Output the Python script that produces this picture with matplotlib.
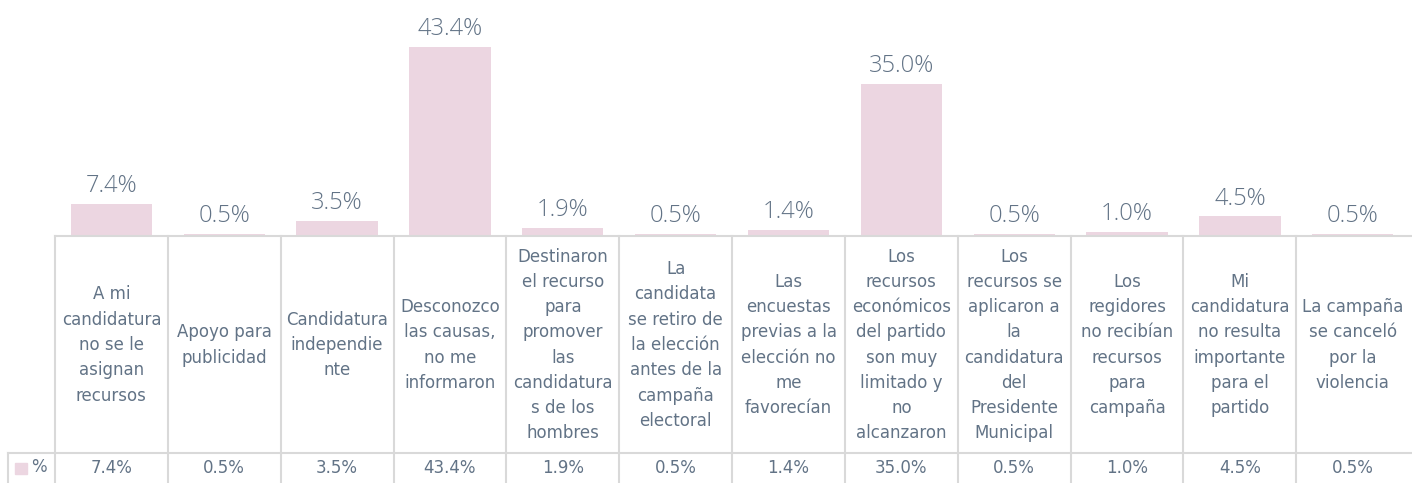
import matplotlib
matplotlib.use("Agg")
import matplotlib.pyplot as plt
from matplotlib.patches import Rectangle

plt.rcParams['font.family'] = ['DejaVu Sans']

categories = [
    "A mi\ncandidatura\nno se le\nasignan\nrecursos",
    "Apoyo para\npublicidad",
    "Candidatura\nindependie\nnte",
    "Desconozco\nlas causas,\nno me\ninformaron",
    "Destinaron\nel recurso\npara\npromover\nlas\ncandidatura\ns de los\nhombres",
    "La\ncandidata\nse retiro de\nla elección\nantes de la\ncampaña\nelectoral",
    "Las\nencuestas\nprevias a la\nelección no\nme\nfavorecían",
    "Los\nrecursos\neconómicos\ndel partido\nson muy\nlimitado y\nno\nalcanzaron",
    "Los\nrecursos se\naplicaron a\nla\ncandidatura\ndel\nPresidente\nMunicipal",
    "Los\nregidores\nno recibían\nrecursos\npara\ncampaña",
    "Mi\ncandidatura\nno resulta\nimportante\npara el\npartido",
    "La campaña\nse canceló\npor la\nviolencia",
]
values = [7.4, 0.5, 3.5, 43.4, 1.9, 0.5, 1.4, 35.0, 0.5, 1.0, 4.5, 0.5]
series_name = "%"

bar_color = "#ecd6e1"
text_color = "#627386"
grid_color = "#d9d9d9"

W, H = 1412, 483
fig = plt.figure(figsize=(W / 100, H / 100), dpi=100)

# bar area: baseline sits on top of the data table
base_px = 236
left_px = 55
col_px = 112.85
n = len(values)
ymax = 50
plot_h = ymax * 4.355
ax = fig.add_axes([left_px / W, (H - base_px) / H, n * col_px / W, plot_h / H])

x = list(range(n))
bars = ax.bar(x, values, width=0.72, color=bar_color)
ax.bar_label(bars, labels=[f"{v:.1f}%" for v in values], padding=4,
             fontsize=17, color=text_color, fontweight='light',
             family=['Open Sans', 'DejaVu Sans'])
ax.set_xlim(-0.5, n - 0.5)
ax.set_ylim(0, ymax)
ax.axis('off')

# data table below the bars (x in data units, y in axes units)
tr = ax.get_xaxis_transform()
px_y = lambda p: -(p - base_px) / plot_h
row1 = px_y(453)
bottom = px_y(H + 2)
leg_left = -0.5 - 47 / col_px
right = n - 0.5 + 10 / col_px

line_kw = dict(color=grid_color, lw=1.5, transform=tr, clip_on=False)
ax.plot([-0.5, right], [0, 0], **line_kw)
ax.plot([leg_left, right], [row1, row1], **line_kw)
ax.plot([leg_left, leg_left], [row1, bottom], **line_kw)
for i in range(n):
    ax.plot([i - 0.5, i - 0.5], [0, bottom], **line_kw)

cell_fs = 12
for i, (cat, v) in enumerate(zip(categories, values)):
    ax.text(i, px_y(345), cat, transform=tr, ha='center', va='center',
            fontsize=cell_fs, color=text_color, linespacing=1.52, clip_on=False)
    ax.text(i, px_y(468), f"{v:.1f}%", transform=tr, ha='center', va='center',
            fontsize=cell_fs, color=text_color, clip_on=False)

# legend key in the row header cell
ax.add_patch(Rectangle((-0.5 - 40 / col_px, px_y(474)), 12 / col_px,
                       px_y(463) - px_y(474), transform=tr,
                       color=bar_color, clip_on=False))
ax.text(-0.5 - 16 / col_px, px_y(467), series_name, transform=tr,
        ha='center', va='center', fontsize=cell_fs, color=text_color,
        clip_on=False)

fig.savefig("out.png", dpi=100)
